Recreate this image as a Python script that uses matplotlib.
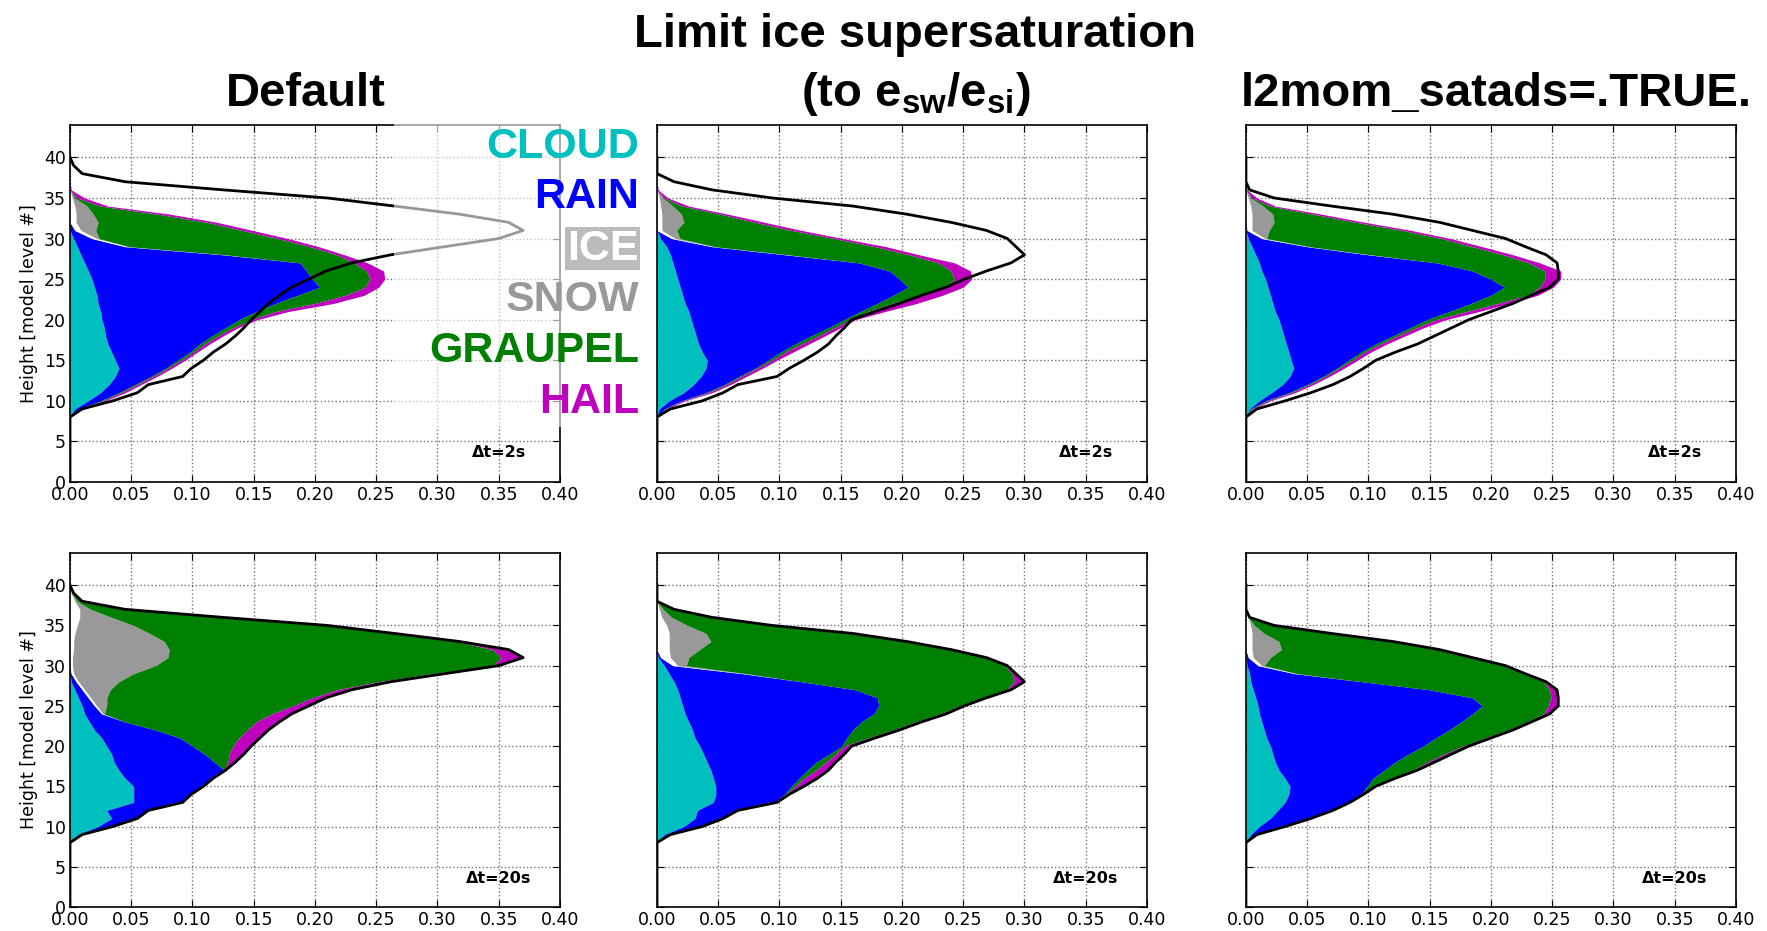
import numpy as np
import matplotlib.pyplot as plt
from matplotlib.patches import Rectangle

plt.rcParams['mathtext.fontset'] = 'custom'
plt.rcParams['mathtext.bf'] = 'Liberation Sans:bold'
plt.rcParams['mathtext.rm'] = 'Liberation Sans:bold'

LEVELS = np.arange(0, 41)


def prof(start, vals):
    # place a profile that starts at model level `start`
    a = np.zeros(len(LEVELS))
    a[start:start + len(vals)] = vals
    return a


# ---- Default, dt=2s ----
def2_cloud = prof(9, [.004, .015, .025, .032, .037, .040, .037, .034, .031, .029, .028, .026, .025, .023, .022, .020, .018, .015, .012, .009, .006, .003])
def2_rain = prof(9, [.003, .010, .015, .021, .029, .038, .051, .064, .075, .087, .099, .112, .127, .145, .164, .184, .180, .178, .176, .116, .039, .015, .004])
def2_ice = prof(28, [.002, .003, .004, .005, .005, .005, .004, .002])
def2_snow = prof(30, [.002, .012, .018, .014, .010, .002])
def2_graupel = prof(9, [.001, .002, .002, .002, .002, .002, .003, .003, .004, .005, .006, .010, .016, .032, .039, .037, .047, .049, .044, .091, .148, .146, .120, .089, .053, .011, .002])
def2_hail = prof(9, [.002, .002, .003, .003, .003, .003, .003, .003, .004, .004, .004, .005, .010, .015, .015, .011, .012, .014, .011, .006, .007, .008, .008, .008, .010, .006, .006, .001])

# ---- Default, dt=20s ----
def20_cloud = prof(9, [.006, .023, .034, .030, .052, .052, .052, .045, .040, .036, .034, .030, .026, .020, .016, .012, .010, .007, .004, .001])
def20_rain = prof(9, [.004, .012, .021, .034, .040, .047, .057, .072, .086, .082, .076, .070, .064, .050, .029, .014, .010, .008, .006, .004, .001])
def20_ice = prof(24, [.001, .002, .002, .002, .002, .002, .002, .002, .003, .003, .004, .006, .008, .008, .004, .001])
def20_snow = prof(24, [.001, .008, .013, .021, .033, .049, .068, .078, .078, .074, .061, .046, .026, .009, .002, .001])
def20_graupel = prof(17, [0, .011, .020, .033, .048, .075, .107, .137, .152, .168, .185, .212, .243, .275, .272, .264, .239, .198, .156, .089, .026, .003, .001])
def20_hail = prof(17, [.001, .006, .012, .015, .017, .017, .019, .016, .013, .011, .012, .010, .011, .005, .018, .013, .002, .002, .002, .002, .002, .001])

# ---- Limit ice supersaturation, dt=2s ----
lim2_cloud = prof(9, [.002, .010, .022, .030, .036, .040, .041, .037, .034, .032, .030, .028, .026, .023, .021, .019, .017, .015, .013, .011, .008, .003])
lim2_rain = prof(9, [.004, .010, .018, .025, .031, .040, .050, .064, .079, .094, .110, .125, .140, .157, .172, .186, .181, .175, .152, .094, .037, .009])
lim2_ice = prof(28, [.002, .002, .003, .004, .004, .004, .003, .002])
lim2_snow = prof(30, [.004, .012, .018, .016, .010, .003])
lim2_graupel = prof(9, [.001, .001, .002, .002, .002, .002, .003, .004, .005, .006, .005, .005, .006, .012, .022, .030, .045, .050, .065, .099, .131, .126, .094, .058, .032, .008, .001])
lim2_hail = prof(9, [.001, .002, .003, .003, .004, .004, .004, .006, .006, .005, .005, .004, .014, .020, .018, .015, .014, .016, .013, .008, .009, .007, .008, .008, .006, .005, .003, .001])

# ---- Limit ice supersaturation, dt=20s ----
lim20_cloud = prof(9, [.006, .022, .031, .033, .046, .048, .048, .046, .044, .041, .038, .035, .031, .029, .026, .023, .021, .019, .017, .014, .010, .006, .001])
lim20_rain = prof(9, [.005, .015, .023, .033, .050, .056, .062, .070, .079, .089, .103, .116, .124, .131, .141, .154, .160, .161, .145, .104, .060, .007, .002])
lim20_ice = prof(29, [.002, .004, .008, .010, .010, .010, .008, .004, .002])
lim20_snow = prof(29, [.001, .007, .015, .025, .034, .030, .017, .008, .003])
lim20_graupel = prof(14, [.001, .003, .004, .007, .008, .005, .002, .017, .033, .044, .054, .066, .085, .123, .174, .217, .260, .242, .204, .159, .119, .068, .032, .008])
lim20_hail = prof(13, [.002, .003, .007, .011, .010, .008, .007, .006, .006, .005, .005, .005, .004, .004, .004, .008, .003, .002, .001, .001, .001, .001, .001, .001, .001])

# ---- l2mom_satads=.TRUE., dt=2s ----
sat2_cloud = prof(9, [.003, .011, .021, .030, .036, .039, .037, .035, .033, .031, .029, .027, .024, .022, .020, .018, .016, .013, .011, .008, .005, .002])
sat2_rain = prof(9, [.001, .005, .014, .020, .027, .035, .047, .059, .073, .089, .105, .121, .142, .162, .180, .193, .184, .172, .145, .092, .045, .011, .001])
sat2_ice = prof(28, [.002, .002, .003, .004, .005, .005, .004, .002])
sat2_snow = prof(30, [.001, .014, .018, .017, .010, .002])
sat2_graupel = prof(9, [.001, .002, .002, .002, .002, .002, .003, .003, .004, .004, .005, .007, .014, .022, .030, .029, .044, .059, .075, .108, .133, .143, .109, .067, .033, .006, .001])
sat2_hail = prof(9, [.001, .002, .003, .003, .003, .004, .004, .005, .005, .006, .006, .008, .010, .009, .008, .011, .013, .013, .009, .008, .008, .007, .007, .007, .007, .004, .004, .001])

# ---- l2mom_satads=.TRUE., dt=20s ----
sat20_cloud = prof(9, [.004, .011, .020, .026, .032, .035, .036, .032, .027, .024, .022, .020, .017, .015, .013, .011, .010, .008, .006, .004, .003, .001])
sat20_rain = prof(9, [.005, .021, .033, .045, .053, .059, .063, .072, .086, .098, .111, .125, .138, .151, .163, .174, .183, .177, .144, .091, .037, .009, .002])
sat20_ice = prof(29, [.002, .003, .004, .005, .005, .005, .004, .002])
sat20_snow = prof(30, [.002, .014, .024, .022, .010, .003])
sat20_graupel = prof(15, [.005, .014, .023, .026, .029, .032, .040, .048, .053, .058, .054, .064, .098, .148, .184, .195, .163, .127, .091, .053, .014])
sat20_hail = prof(14, [.002, .002, .004, .004, .006, .006, .005, .005, .004, .004, .005, .008, .006, .006, .002, .002, .002, .002, .002, .002, .002, .002, .001])

species_labels = ['CLOUD', 'RAIN', 'ICE', 'SNOW', 'GRAUPEL', 'HAIL']
species_colors = ['#00bfbf', '#0000ff', '#ffffff', '#999999', '#008000', '#bf00bf']
dt_labels = ['\u0394t=2s', '\u0394t=20s']

runs_2s = [
    [def2_cloud, def2_rain, def2_ice, def2_snow, def2_graupel, def2_hail],
    [lim2_cloud, lim2_rain, lim2_ice, lim2_snow, lim2_graupel, lim2_hail],
    [sat2_cloud, sat2_rain, sat2_ice, sat2_snow, sat2_graupel, sat2_hail],
]
runs_20s = [
    [def20_cloud, def20_rain, def20_ice, def20_snow, def20_graupel, def20_hail],
    [lim20_cloud, lim20_rain, lim20_ice, lim20_snow, lim20_graupel, lim20_hail],
    [sat20_cloud, sat20_rain, sat20_ice, sat20_snow, sat20_graupel, sat20_hail],
]

fig = plt.figure(figsize=(17.67, 9.31), dpi=100)
lefts = [0.0396, 0.3718, 0.7051]
bottoms = [0.4823, 0.0258]
heights = [0.3835, 0.3802]
W = 0.2773

TITLE_FONT = dict(family='Liberation Sans', weight='bold', size=34)


def draw(ax, parts, line_total):
    left = np.zeros(len(LEVELS))
    for p, c in zip(parts, species_colors):
        right = left + p
        ax.fill_betweenx(LEVELS, left, right, color=c, lw=0)
        left = right
    ax.plot(line_total, LEVELS, color='k', lw=2)


for col in range(3):
    total20 = np.sum(runs_20s[col], axis=0)
    for row, parts in enumerate([runs_2s[col], runs_20s[col]]):
        ax = fig.add_axes([lefts[col], bottoms[row], W, heights[row]])
        ax.set_axisbelow(True)
        draw(ax, parts, total20)
        ax.set_xlim(0, 0.40)
        ax.set_ylim(0, 44)
        ax.set_xticks(np.arange(0, 0.401, 0.05))
        ax.set_xticklabels(['%.2f' % v for v in np.arange(0, 0.401, 0.05)])
        ax.set_yticks(np.arange(0, 41, 5))
        ax.grid(True, color='0.45', linestyle=':', lw=1)
        ax.tick_params(direction='in', top=True, right=True, length=5,
                       labelsize=12.5, pad=3)
        for s in ax.spines.values():
            s.set_linewidth(1.2)
        if col == 0:
            ax.set_ylabel('Height [model level #]', fontsize=12.5)
        else:
            ax.set_yticklabels([])
        ax.text(0.35, 3.6, dt_labels[row], ha='center', va='center',
                fontsize=11.5, fontweight='bold')

# titles
fig.text(0.173, 0.886, 'Default', ha='center', va='baseline', **TITLE_FONT)
fig.text(0.518, 0.950, 'Limit ice supersaturation', ha='center', va='baseline', **TITLE_FONT)
fig.text(0.518, 0.886, r'(to e$_{\mathbf{sw}}$/e$_{\mathbf{si}}$)', ha='center', va='baseline', **TITLE_FONT)
fig.text(0.847, 0.886, 'l2mom_satads=.TRUE.', ha='center', va='baseline', **TITLE_FONT)

# translucent legend panel over the first axes
fig.add_artist(Rectangle((0.223, 0.541), 0.145, 0.333, transform=fig.transFigure,
                         facecolor='white', edgecolor='none', alpha=0.6, zorder=5))

leg_y = [0.842, 0.788, 0.733, 0.678, 0.623, 0.568]
for lab, c, y in zip(species_labels, species_colors, leg_y):
    if lab == 'ICE':
        fig.text(0.3614, y, lab, ha='right', va='center', color='white',
                 family='Liberation Sans', weight='bold', size=31, zorder=10,
                 bbox=dict(boxstyle='square,pad=0.04', facecolor='#bbbbbb', edgecolor='none'))
    else:
        fig.text(0.3616, y, lab, ha='right', va='center', color=c,
                 family='Liberation Sans', weight='bold', size=31, zorder=10)

fig.savefig('out.png', dpi=100)
